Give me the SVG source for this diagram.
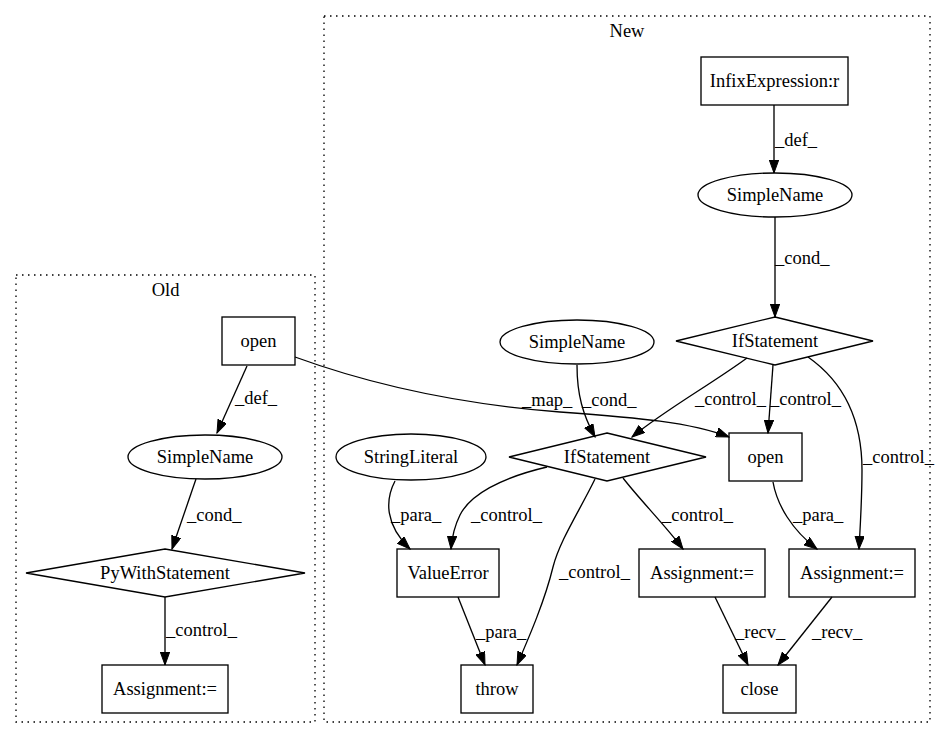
<svg xmlns="http://www.w3.org/2000/svg" width="945" height="740" viewBox="0 0 945 740" font-family="'Liberation Serif', 'DejaVu Serif', serif">
<style>
text{font-family:'Liberation Serif','DejaVu Serif',serif;font-size:18.5px;fill:#000}
.n{text-anchor:middle}
.shape{fill:none;stroke:#000;stroke-width:1.33}
.cl{fill:none;stroke:#000;stroke-width:1.33;stroke-dasharray:1.5,4.5}
.e{fill:none;stroke:#000;stroke-width:1.33;marker-end:url(#ah)}
</style>
<defs>
<marker id="ah" markerUnits="userSpaceOnUse" markerWidth="14" markerHeight="10" refX="13" refY="4.7" orient="auto">
<path d="M0,0 L13,4.7 L0,9.4 z" fill="#000" stroke="#000" stroke-width="1"/>
</marker>
</defs>
<rect width="945" height="740" fill="#fff"/>
<g id="cluster_old">
<rect class="cl" x="16" y="275" width="299" height="447"/>
<text class="n" x="165.5" y="296">Old</text>
</g>
<g id="cluster_new">
<rect class="cl" x="324" y="16" width="606" height="706"/>
<text class="n" x="627" y="37">New</text>
</g>
<g id="connectors">
<path class="e" d="M247,366 L217,433"/>
<text x="235" y="404">_def_</text>
<path class="e" d="M196,479 L172,549"/>
<text x="187" y="521">_cond_</text>
<path class="e" d="M165,597 L165,665"/>
<text x="166" y="636">_control_</text>
<path class="e" d="M295,357 C380,388 470,405 560,412 C640,418 690,422 729,437"/>
<text x="522" y="406">_map_</text>
<path class="e" d="M774,105 L774,173"/>
<text x="775" y="146">_def_</text>
<path class="e" d="M775,217 L775,317"/>
<text x="775" y="264">_cond_</text>
<path class="e" d="M747,358 C710,385 665,410 632,437"/>
<text x="695" y="405">_control_</text>
<path class="e" d="M773,365 L768,433"/>
<text x="770" y="405">_control_</text>
<path class="e" d="M808,357 C848,385 862,425 862,470 C862,500 860,530 859,549"/>
<text x="863" y="463">_control_</text>
<path class="e" d="M577,365 C577,395 583,415 595,437"/>
<text x="582" y="406">_cond_</text>
<path class="e" d="M547,467 C500,478 470,495 460,515 C455,525 452,537 451,549"/>
<text x="471" y="521">_control_</text>
<path class="e" d="M595,479 C580,510 560,540 553,567 C545,600 530,635 517,665"/>
<text x="559" y="578">_control_</text>
<path class="e" d="M623,478 C640,500 665,525 683,549"/>
<text x="662" y="521">_control_</text>
<path class="e" d="M395,481 C385,500 385,525 410,549"/>
<text x="391" y="521">_para_</text>
<path class="e" d="M773,482 C777,505 792,530 817,549"/>
<text x="793" y="521">_para_</text>
<path class="e" d="M458,597 L485,665"/>
<text x="476" y="638">_para_</text>
<path class="e" d="M715,597 L748,665"/>
<text x="735" y="638">_recv_</text>
<path class="e" d="M832,597 L778,665"/>
<text x="812" y="638">_recv_</text>
</g>
<g id="old_open">
<rect class="shape" x="222" y="317" width="73" height="48"/>
<text class="n" x="258.5" y="347">open</text>
</g>
<g id="old_simplename">
<ellipse class="shape" cx="205" cy="457" rx="77" ry="22"/>
<text class="n" x="205" y="463">SimpleName</text>
</g>
<g id="old_pywith">
<polygon class="shape" points="165,549 305,573 165,597 26,573"/>
<text class="n" x="165" y="579">PyWithStatement</text>
</g>
<g id="old_assignment">
<rect class="shape" x="102" y="665" width="126" height="48"/>
<text class="n" x="165" y="695">Assignment:=</text>
</g>
<g id="new_infix">
<rect class="shape" x="701" y="57" width="147" height="48"/>
<text class="n" x="774.5" y="87">InfixExpression:r</text>
</g>
<g id="new_simplename_top">
<ellipse class="shape" cx="775" cy="195" rx="77" ry="22"/>
<text class="n" x="775" y="201">SimpleName</text>
</g>
<g id="new_if_top">
<polygon class="shape" points="775,317 873,341 775,365 676,341"/>
<text class="n" x="775" y="347">IfStatement</text>
</g>
<g id="new_simplename_mid">
<ellipse class="shape" cx="577" cy="342" rx="77" ry="22"/>
<text class="n" x="577" y="348">SimpleName</text>
</g>
<g id="new_if_mid">
<polygon class="shape" points="607,433 706,457 607,481 509,457"/>
<text class="n" x="607" y="463">IfStatement</text>
</g>
<g id="new_open">
<rect class="shape" x="729" y="433" width="73" height="48"/>
<text class="n" x="765.5" y="463">open</text>
</g>
<g id="new_stringliteral">
<ellipse class="shape" cx="411" cy="457" rx="75" ry="23"/>
<text class="n" x="411" y="463">StringLiteral</text>
</g>
<g id="new_valueerror">
<rect class="shape" x="397" y="549" width="102" height="48"/>
<text class="n" x="448" y="579">ValueError</text>
</g>
<g id="new_assignment_mid">
<rect class="shape" x="639" y="549" width="126" height="48"/>
<text class="n" x="702" y="579">Assignment:=</text>
</g>
<g id="new_assignment_right">
<rect class="shape" x="789" y="549" width="126" height="48"/>
<text class="n" x="852" y="579">Assignment:=</text>
</g>
<g id="new_throw">
<rect class="shape" x="461" y="665" width="72" height="48"/>
<text class="n" x="497" y="695">throw</text>
</g>
<g id="new_close">
<rect class="shape" x="723" y="665" width="73" height="48"/>
<text class="n" x="759.5" y="695">close</text>
</g>
</svg>
